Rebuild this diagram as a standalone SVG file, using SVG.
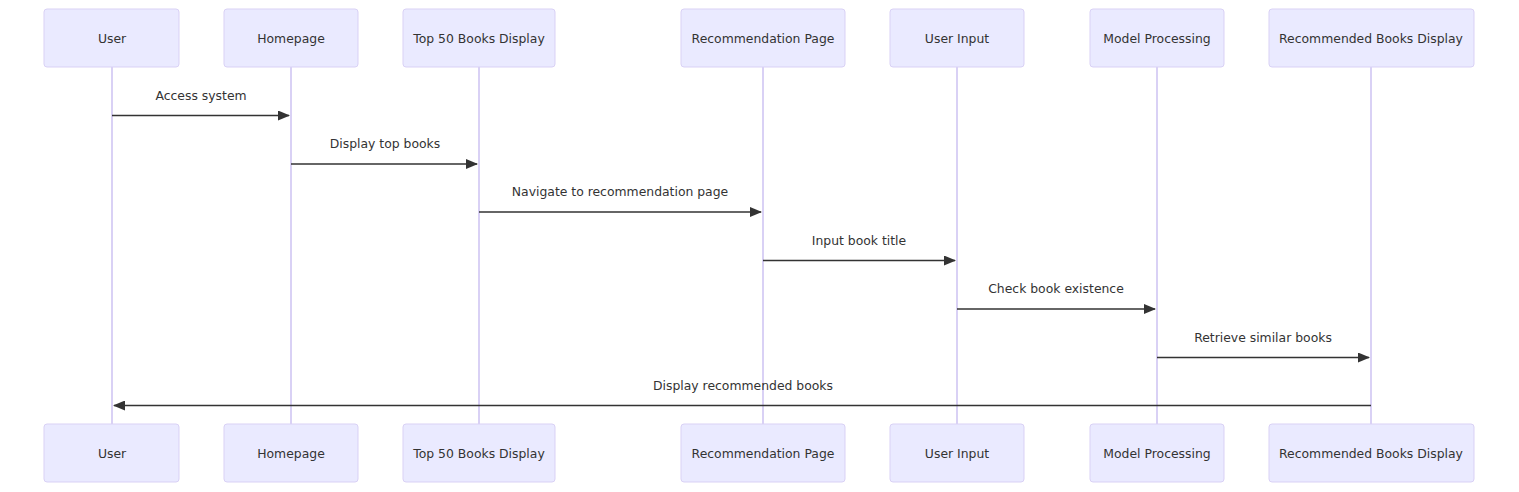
<svg xmlns="http://www.w3.org/2000/svg" width="1519" height="492" viewBox="0 0 1519 492">
<style>
.actor{fill:#eaeaff;stroke:#d9d1f5;stroke-width:1}
.life{stroke:#d9d1f5;stroke-width:2}
.t{font-family:"DejaVu Sans","Open Sans",sans-serif;font-size:12.4px;fill:#333;text-anchor:middle;dominant-baseline:central}
.msg{stroke:#333;stroke-width:1.5;fill:none}
</style>
<defs>
<marker id="ah" viewBox="0 0 12 10" refX="11" refY="5" markerWidth="12" markerHeight="10" markerUnits="userSpaceOnUse" orient="auto">
<path d="M0,0 L12,5 L0,10 z" fill="#333"/>
</marker>
</defs>
<g id="lifelines">
<line class="life" x1="112" y1="67" x2="112" y2="424"/>
<line class="life" x1="291" y1="67" x2="291" y2="424"/>
<line class="life" x1="479" y1="67" x2="479" y2="424"/>
<line class="life" x1="763" y1="67" x2="763" y2="424"/>
<line class="life" x1="957" y1="67" x2="957" y2="424"/>
<line class="life" x1="1157" y1="67" x2="1157" y2="424"/>
<line class="life" x1="1371" y1="67" x2="1371" y2="424"/>
</g>
<g id="actor-user"><rect class="actor" x="44" y="9" width="135" height="58" rx="3"/><text class="t" x="112" y="38">User</text><rect class="actor" x="44" y="424" width="135" height="58" rx="3"/><text class="t" x="112" y="453">User</text></g>
<g id="actor-homepage"><rect class="actor" x="224" y="9" width="134" height="58" rx="3"/><text class="t" x="291" y="38">Homepage</text><rect class="actor" x="224" y="424" width="134" height="58" rx="3"/><text class="t" x="291" y="453">Homepage</text></g>
<g id="actor-top50"><rect class="actor" x="403" y="9" width="152" height="58" rx="3"/><text class="t" x="479" y="38">Top 50 Books Display</text><rect class="actor" x="403" y="424" width="152" height="58" rx="3"/><text class="t" x="479" y="453">Top 50 Books Display</text></g>
<g id="actor-recpage"><rect class="actor" x="681" y="9" width="164" height="58" rx="3"/><text class="t" x="763" y="38">Recommendation Page</text><rect class="actor" x="681" y="424" width="164" height="58" rx="3"/><text class="t" x="763" y="453">Recommendation Page</text></g>
<g id="actor-input"><rect class="actor" x="890" y="9" width="134" height="58" rx="3"/><text class="t" x="957" y="38">User Input</text><rect class="actor" x="890" y="424" width="134" height="58" rx="3"/><text class="t" x="957" y="453">User Input</text></g>
<g id="actor-model"><rect class="actor" x="1090" y="9" width="134" height="58" rx="3"/><text class="t" x="1157" y="38">Model Processing</text><rect class="actor" x="1090" y="424" width="134" height="58" rx="3"/><text class="t" x="1157" y="453">Model Processing</text></g>
<g id="actor-recdisplay"><rect class="actor" x="1269" y="9" width="205" height="58" rx="3"/><text class="t" x="1371" y="38">Recommended Books Display</text><rect class="actor" x="1269" y="424" width="205" height="58" rx="3"/><text class="t" x="1371" y="453">Recommended Books Display</text></g>
<g id="messages">
<line class="msg" x1="112" y1="115.5" x2="289" y2="115.5" marker-end="url(#ah)"/>
<text class="t" x="201" y="95">Access system</text>
<line class="msg" x1="291" y1="164" x2="477" y2="164" marker-end="url(#ah)"/>
<text class="t" x="385" y="143">Display top books</text>
<line class="msg" x1="479" y1="212" x2="761" y2="212" marker-end="url(#ah)"/>
<text class="t" x="620" y="191">Navigate to recommendation page</text>
<line class="msg" x1="763" y1="260.5" x2="955" y2="260.5" marker-end="url(#ah)"/>
<text class="t" x="859" y="240">Input book title</text>
<line class="msg" x1="957" y1="309" x2="1155" y2="309" marker-end="url(#ah)"/>
<text class="t" x="1056" y="288">Check book existence</text>
<line class="msg" x1="1157" y1="357.5" x2="1369" y2="357.5" marker-end="url(#ah)"/>
<text class="t" x="1263" y="337">Retrieve similar books</text>
<line class="msg" x1="1371" y1="405.5" x2="114" y2="405.5" marker-end="url(#ah)"/>
<text class="t" x="743" y="385">Display recommended books</text>
</g>
</svg>
